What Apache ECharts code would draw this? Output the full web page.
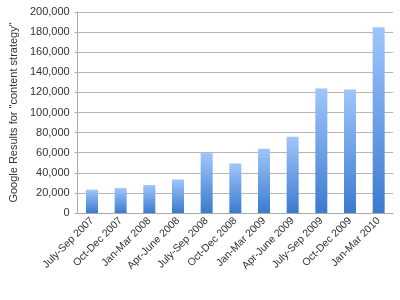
<!DOCTYPE html>
<html><head><meta charset="utf-8">
<script src="https://cdn.jsdelivr.net/npm/echarts@6/dist/echarts.min.js"></script>
<style>html,body{margin:0;padding:0;background:#fff}#c{width:400px;height:300px}</style>
</head><body><div id="c"></div>
<script>
const categories = ["July-Sep 2007","Oct-Dec 2007","Jan-Mar 2008","Apr-June 2008","July-Sep 2008","Oct-Dec 2008","Jan-Mar 2009","Apr-June 2009","July-Sep 2009","Oct-Dec 2009","Jan-Mar 2010"];
const results = [23200, 24800, 27800, 33400, 59600, 49300, 63900, 75800, 123800, 122800, 184800];
const yAxisName = 'Google Results for "content strategy"';

const chart = echarts.init(document.getElementById('c'), null, {renderer:'canvas'});
chart.setOption({
  animation:false,
  grid:{left:69,right:7,top:12,bottom:87},
  xAxis:{type:'category',data:categories,
    axisLine:{lineStyle:{color:'#aaa'}},
    axisTick:{length:4,lineStyle:{color:'#aaa'}},
    axisLabel:{rotate:45,interval:0,color:'#333',fontFamily:'Liberation Sans',fontSize:10.5,margin:6}},
  yAxis:{type:'value',min:0,max:200000,interval:20000,
    name:yAxisName,nameLocation:'middle',nameGap:57,
    nameTextStyle:{color:'#333',fontFamily:'Liberation Sans',fontSize:11},
    axisLine:{show:true,lineStyle:{color:'#aaa'}},
    axisTick:{show:true,length:3,lineStyle:{color:'#aaa'}},
    splitLine:{lineStyle:{color:'#b5b5b5'}},
    axisLabel:{color:'#333',fontFamily:'Liberation Sans',fontSize:11,margin:8,
      formatter:v=>v.toLocaleString('en-US')}},
  series:[{type:'bar',data:results,barWidth:12,
    itemStyle:{color:new echarts.graphic.LinearGradient(0,0,0,1,[{offset:0,color:'#9fc6fb'},{offset:1,color:'#3b7ad0'}])}}]
});
</script></body></html>
